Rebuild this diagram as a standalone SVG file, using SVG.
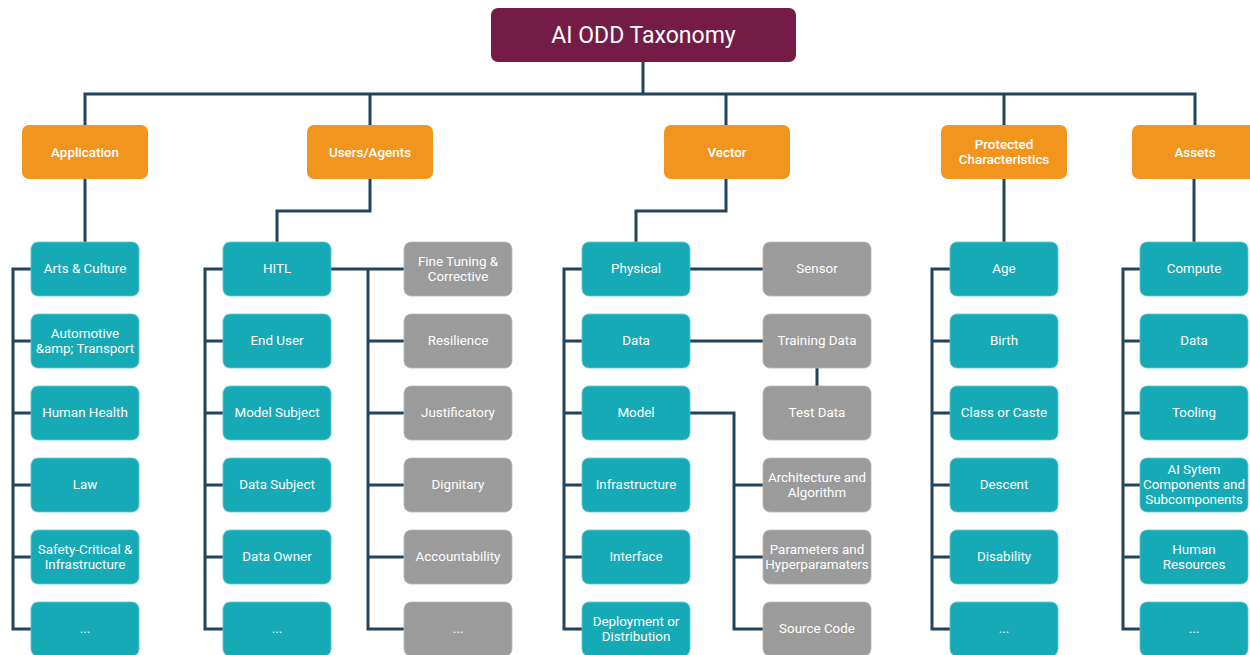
<svg xmlns="http://www.w3.org/2000/svg" width="1250" height="655" viewBox="0 0 1250 655">
<style>
text{font-family:Roboto,"Liberation Sans",sans-serif;fill:#fff;text-anchor:middle;dominant-baseline:central;font-size:13.4px}
.title rect{fill:#741b46}
.title text{font-size:23px}
.cat rect{fill:#f2951f}
.cat text{font-weight:500}
.t rect{fill:#15aab6;stroke:#5cc6ce;stroke-width:0.8}
.g rect{fill:#9b9b9b;stroke:#b5b5b5;stroke-width:0.8}
.conn path{fill:none;stroke:#23445e;stroke-width:3;stroke-linejoin:miter}
</style>
<rect width="1250" height="655" fill="#fff"/>
<g class="conn">
<path d="M643,62 V94"/>
<path d="M85,125 V94 H1195 V125"/>
<path d="M370,94 V125 M726,94 V125 M1004,94 V125"/>
<path d="M85,179 V243"/>
<path d="M31,269 H13 V629 H31 M13,341 H31 M13,413 H31 M13,485 H31 M13,557 H31"/>
<path d="M370,179 V211 H277 V243"/>
<path d="M223,269 H205 V629 H223 M205,341 H223 M205,413 H223 M205,485 H223 M205,557 H223"/>
<path d="M331,269 H404 M368,269 V629 H404 M368,341 H404 M368,413 H404 M368,485 H404 M368,557 H404"/>
<path d="M726,179 V211 H636 V243"/>
<path d="M582,269 H564 V629 H582 M564,341 H582 M564,413 H582 M564,485 H582 M564,557 H582"/>
<path d="M690,269 H763 M690,341 H763 M817,368 V387"/>
<path d="M690,413 H734 V629 H763 M734,485 H763 M734,557 H763"/>
<path d="M1004,179 V243"/>
<path d="M950,269 H932 V629 H950 M932,341 H950 M932,413 H950 M932,485 H950 M932,557 H950"/>
<path d="M1194,179 V243"/>
<path d="M1140,269 H1123 V629 H1140 M1123,341 H1140 M1123,413 H1140 M1123,485 H1140 M1123,557 H1140"/>
</g>
<g id="title" class="title"><rect x="491" y="8" width="305" height="54" rx="7"/><text x="643.5" y="35">AI ODD Taxonomy</text></g>
<g id="application" class="cat"><rect x="22" y="125" width="126" height="54" rx="7"/><text x="85" y="152">Application</text></g>
<g id="users" class="cat"><rect x="307" y="125" width="126" height="54" rx="7"/><text x="370" y="152">Users/Agents</text></g>
<g id="vector" class="cat"><rect x="664" y="125" width="126" height="54" rx="7"/><text x="727" y="152">Vector</text></g>
<g id="protected" class="cat"><rect x="941" y="125" width="126" height="54" rx="7"/><text x="1004" y="144.5">Protected</text><text x="1004" y="159.5">Characteristics</text></g>
<g id="assets" class="cat"><rect x="1132" y="125" width="126" height="54" rx="7"/><text x="1195" y="152">Assets</text></g>

<g id="arts" class="t"><rect x="31" y="242" width="108" height="54" rx="7"/><text x="85" y="268.5">Arts &amp; Culture</text></g>
<g id="automotive" class="t"><rect x="31" y="314" width="108" height="54" rx="7"/><text x="85" y="333">Automotive</text><text x="85" y="348">&amp;amp; Transport</text></g>
<g id="health" class="t"><rect x="31" y="386" width="108" height="54" rx="7"/><text x="85" y="412.5">Human Health</text></g>
<g id="law" class="t"><rect x="31" y="458" width="108" height="54" rx="7"/><text x="85" y="484.5">Law</text></g>
<g id="safety" class="t"><rect x="31" y="530" width="108" height="54" rx="7"/><text x="85" y="549">Safety-Critical &amp;</text><text x="85" y="564">Infrastructure</text></g>
<g id="app-more" class="t"><rect x="31" y="602" width="108" height="54" rx="7"/><text x="85" y="628.5">...</text></g>

<g id="hitl" class="t"><rect x="223" y="242" width="108" height="54" rx="7"/><text x="277" y="268.5">HITL</text></g>
<g id="enduser" class="t"><rect x="223" y="314" width="108" height="54" rx="7"/><text x="277" y="340.5">End User</text></g>
<g id="modelsubject" class="t"><rect x="223" y="386" width="108" height="54" rx="7"/><text x="277" y="412.5">Model Subject</text></g>
<g id="datasubject" class="t"><rect x="223" y="458" width="108" height="54" rx="7"/><text x="277" y="484.5">Data Subject</text></g>
<g id="dataowner" class="t"><rect x="223" y="530" width="108" height="54" rx="7"/><text x="277" y="556.5">Data Owner</text></g>
<g id="users-more" class="t"><rect x="223" y="602" width="108" height="54" rx="7"/><text x="277" y="628.5">...</text></g>

<g id="finetuning" class="g"><rect x="404" y="242" width="108" height="54" rx="7"/><text x="458" y="261">Fine Tuning &amp;</text><text x="458" y="276">Corrective</text></g>
<g id="resilience" class="g"><rect x="404" y="314" width="108" height="54" rx="7"/><text x="458" y="340.5">Resilience</text></g>
<g id="justificatory" class="g"><rect x="404" y="386" width="108" height="54" rx="7"/><text x="458" y="412.5">Justificatory</text></g>
<g id="dignitary" class="g"><rect x="404" y="458" width="108" height="54" rx="7"/><text x="458" y="484.5">Dignitary</text></g>
<g id="accountability" class="g"><rect x="404" y="530" width="108" height="54" rx="7"/><text x="458" y="556.5">Accountability</text></g>
<g id="hitl-more" class="g"><rect x="404" y="602" width="108" height="54" rx="7"/><text x="458" y="628.5">...</text></g>

<g id="physical" class="t"><rect x="582" y="242" width="108" height="54" rx="7"/><text x="636" y="268.5">Physical</text></g>
<g id="vdata" class="t"><rect x="582" y="314" width="108" height="54" rx="7"/><text x="636" y="340.5">Data</text></g>
<g id="model" class="t"><rect x="582" y="386" width="108" height="54" rx="7"/><text x="636" y="412.5">Model</text></g>
<g id="infrastructure" class="t"><rect x="582" y="458" width="108" height="54" rx="7"/><text x="636" y="484.5">Infrastructure</text></g>
<g id="interface" class="t"><rect x="582" y="530" width="108" height="54" rx="7"/><text x="636" y="556.5">Interface</text></g>
<g id="deployment" class="t"><rect x="582" y="602" width="108" height="54" rx="7"/><text x="636" y="621.5">Deployment or</text><text x="636" y="636.5">Distribution</text></g>

<g id="sensor" class="g"><rect x="763" y="242" width="108" height="54" rx="7"/><text x="817" y="268.5">Sensor</text></g>
<g id="training" class="g"><rect x="763" y="314" width="108" height="54" rx="7"/><text x="817" y="340.5">Training Data</text></g>
<g id="test" class="g"><rect x="763" y="386" width="108" height="54" rx="7"/><text x="817" y="412.5">Test Data</text></g>
<g id="architecture" class="g"><rect x="763" y="458" width="108" height="54" rx="7"/><text x="817" y="477">Architecture and</text><text x="817" y="492">Algorithm</text></g>
<g id="parameters" class="g"><rect x="763" y="530" width="108" height="54" rx="7"/><text x="817" y="549">Parameters and</text><text x="817" y="564">Hyperparamaters</text></g>
<g id="source" class="g"><rect x="763" y="602" width="108" height="54" rx="7"/><text x="817" y="628.5">Source Code</text></g>

<g id="age" class="t"><rect x="950" y="242" width="108" height="54" rx="7"/><text x="1004" y="268.5">Age</text></g>
<g id="birth" class="t"><rect x="950" y="314" width="108" height="54" rx="7"/><text x="1004" y="340.5">Birth</text></g>
<g id="class" class="t"><rect x="950" y="386" width="108" height="54" rx="7"/><text x="1004" y="412.5">Class or Caste</text></g>
<g id="descent" class="t"><rect x="950" y="458" width="108" height="54" rx="7"/><text x="1004" y="484.5">Descent</text></g>
<g id="disability" class="t"><rect x="950" y="530" width="108" height="54" rx="7"/><text x="1004" y="556.5">Disability</text></g>
<g id="pc-more" class="t"><rect x="950" y="602" width="108" height="54" rx="7"/><text x="1004" y="628.5">...</text></g>

<g id="compute" class="t"><rect x="1140" y="242" width="108" height="54" rx="7"/><text x="1194" y="268.5">Compute</text></g>
<g id="adata" class="t"><rect x="1140" y="314" width="108" height="54" rx="7"/><text x="1194" y="340.5">Data</text></g>
<g id="tooling" class="t"><rect x="1140" y="386" width="108" height="54" rx="7"/><text x="1194" y="412.5">Tooling</text></g>
<g id="aisystem" class="t"><rect x="1140" y="458" width="108" height="54" rx="7"/><text x="1194" y="469.5">AI Sytem</text><text x="1194" y="484.5">Components and</text><text x="1194" y="499.5">Subcomponents</text></g>
<g id="human" class="t"><rect x="1140" y="530" width="108" height="54" rx="7"/><text x="1194" y="549">Human</text><text x="1194" y="564">Resources</text></g>
<g id="assets-more" class="t"><rect x="1140" y="602" width="108" height="54" rx="7"/><text x="1194" y="628.5">...</text></g>
</svg>
